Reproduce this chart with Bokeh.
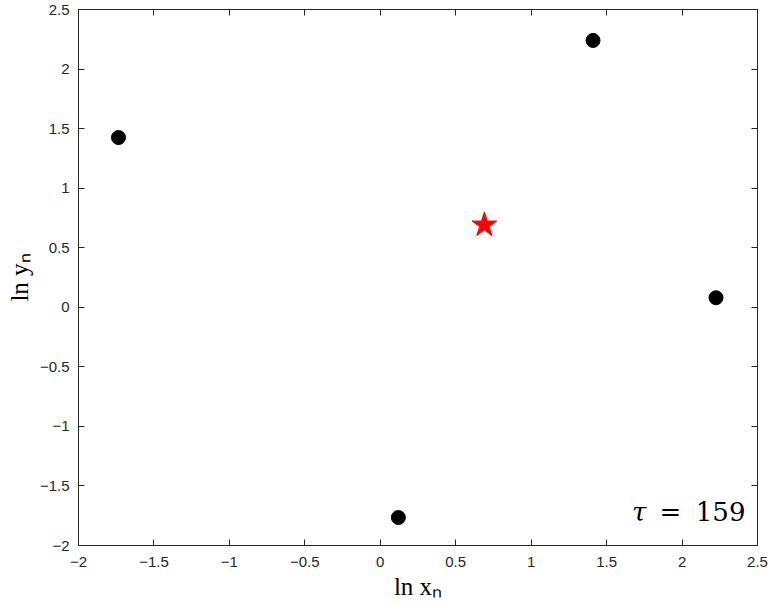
from bokeh.plotting import figure
from bokeh.models import Range1d, LinearAxis, FixedTicker, Label
from bokeh.embed import file_html
from bokeh.resources import INLINE

# data
ln_x = [-1.735, 1.41, 2.225, 0.12]
ln_y = [1.425, 2.24, 0.08, -1.765]
star_x = [0.69]
star_y = [0.69]
tau_value = "159"

x_ticks = [-2, -1.5, -1, -0.5, 0, 0.5, 1, 1.5, 2, 2.5]
x_tick_labels = ["\u22122", "\u22121.5", "\u22121", "\u22120.5", "0", "0.5", "1", "1.5", "2", "2.5"]
y_ticks = [-2, -1.5, -1, -0.5, 0, 0.5, 1, 1.5, 2, 2.5]
y_tick_labels = ["\u22122", "\u22121.5", "\u22121", "\u22120.5", "0", "0.5", "1", "1.5", "2", "2.5"]

AX = "#262626"
TICK_FONT = "Liberation Sans"
SERIF = "DejaVu Serif"

p = figure(width=769, height=604, output_backend="svg", toolbar_location=None,
           x_range=Range1d(-2, 2.5), y_range=Range1d(-2, 2.5),
           min_border_left=78, min_border_right=12, min_border_top=9, min_border_bottom=59)
p.grid.visible = False
p.outline_line_color = AX
p.outline_line_width = 1
p.background_fill_color = "white"
p.border_fill_color = "white"

def style(ax, ticks, labels, show):
    ax.ticker = FixedTicker(ticks=ticks)
    ax.major_label_overrides = {t: l for t, l in zip(ticks, labels)} if show else {t: "" for t in ticks}
    ax.axis_line_color = AX
    ax.major_tick_line_color = AX
    ax.major_tick_in = 6
    ax.major_tick_out = 0
    ax.minor_tick_line_color = None
    ax.major_label_text_color = AX
    ax.major_label_text_font = TICK_FONT
    ax.major_label_text_font_size = "15px" if show else "0px"
    ax.major_label_standoff = 10 if show else 0

style(p.xaxis[0], x_ticks, x_tick_labels, True)
style(p.yaxis[0], y_ticks, y_tick_labels, True)
p.xaxis[0].major_label_standoff = 11
p.yaxis[0].major_label_standoff = 9

for ax in (p.xaxis[0], p.yaxis[0]):
    ax.axis_label_text_font = "Liberation Serif"
    ax.axis_label_text_font_size = "25px"
    ax.axis_label_text_font_style = "normal"
    ax.axis_label_text_color = "black"
p.xaxis[0].axis_label = "ln x\u2099"
p.yaxis[0].axis_label = "ln y\u2099"
p.xaxis[0].axis_label_standoff = 3
p.yaxis[0].axis_label_standoff = 4

top = LinearAxis()
style(top, x_ticks, x_tick_labels, False)
p.add_layout(top, "above")
right = LinearAxis()
style(right, y_ticks, y_tick_labels, False)
p.add_layout(right, "right")

p.scatter(ln_x, ln_y, size=14, color="black")
p.scatter(star_x, star_y, marker="star", size=26, color="red", line_color="red")

# tau annotation
p.add_layout(Label(x=1.764, y=-1.715, text="\u03c4", text_font=SERIF, text_font_size="26px",
                   text_font_style="italic", text_align="right", text_baseline="alphabetic", text_color="black"))
p.add_layout(Label(x=1.923, y=-1.715, text="=", text_font=SERIF, text_font_size="26px",
                   text_align="center", text_baseline="alphabetic", text_color="black"))
p.add_layout(Label(x=2.42, y=-1.715, text=tau_value, text_font=SERIF, text_font_size="26px",
                   text_align="right", text_baseline="alphabetic", text_color="black"))

open("out.html", "w").write(file_html(p, INLINE))
